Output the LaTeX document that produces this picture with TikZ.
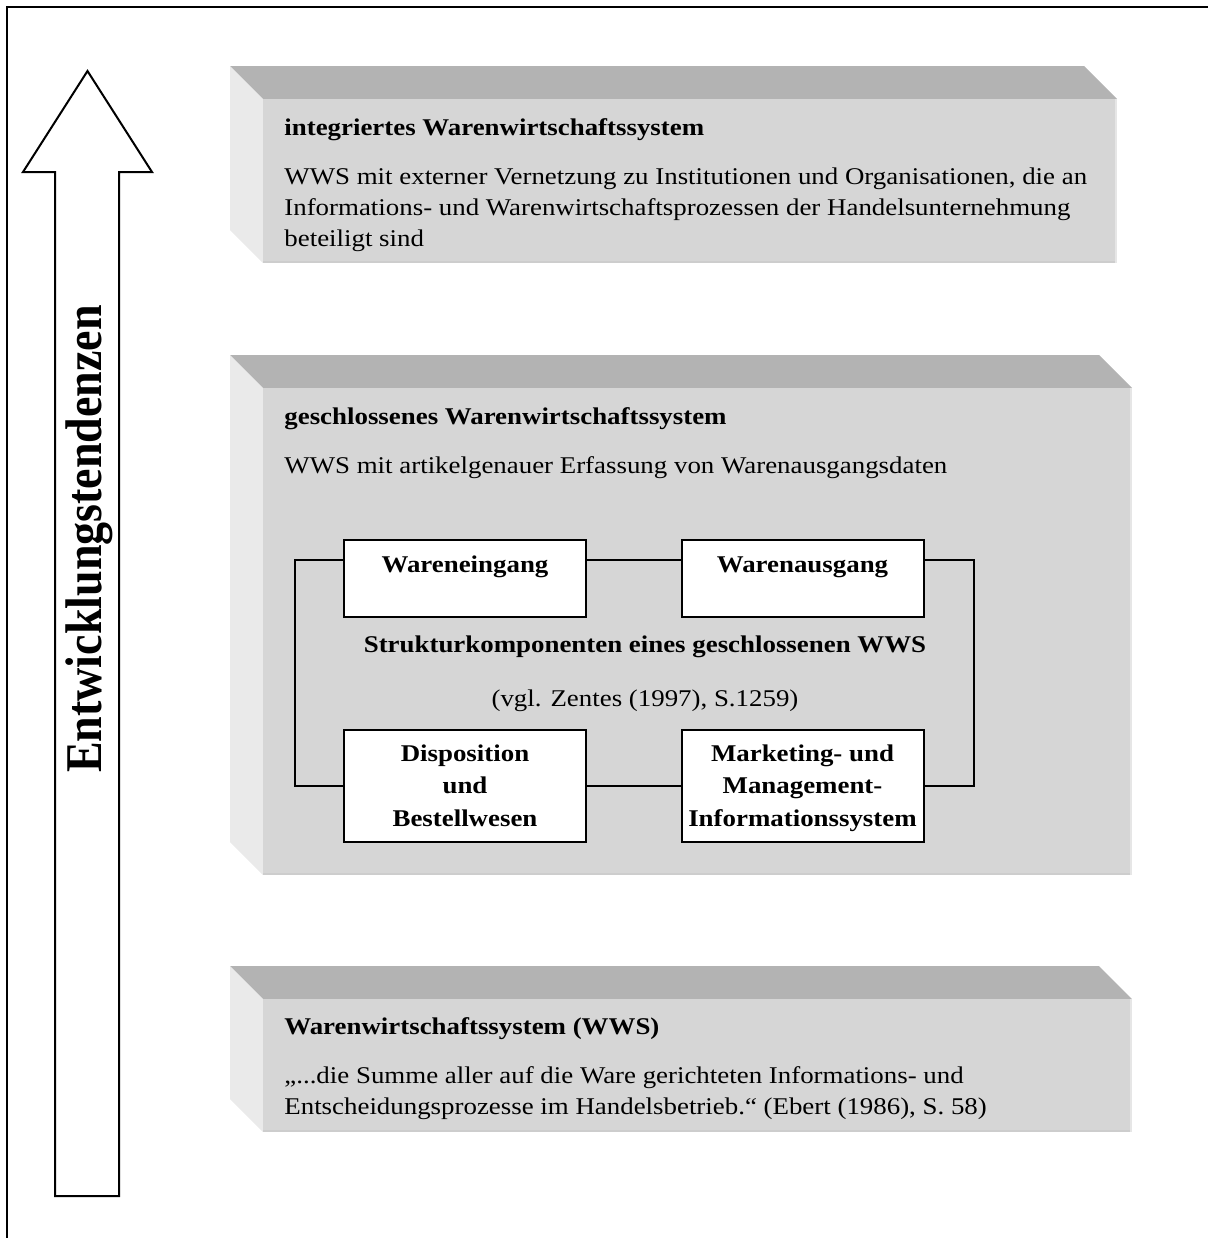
\documentclass[tikz,border=0pt]{standalone}
\usepackage{fontspec}
\setmainfont{Liberation Serif}[FakeStretch=1.12]
\newfontfamily\uprightserif{Liberation Serif}
\usetikzlibrary{calc}

\definecolor{slabtop}{HTML}{B3B3B3}
\definecolor{slabfront}{HTML}{D6D6D6}
\definecolor{slabside}{HTML}{EAEAEA}
\definecolor{slabfoot}{HTML}{CDCDCD}
\definecolor{slabrim}{HTML}{E6E6E6}

\tikzset{
  body/.style={font=\fontsize{12}{15.65}\selectfont, inner sep=0pt, anchor=base west, align=left},
  head/.style={body, font=\bfseries\fontsize{12}{15.65}\selectfont},
  compbox/.style={draw, fill=white, line width=1pt, minimum width=121pt, inner sep=0pt},
  comptext/.style={font=\bfseries\fontsize{12}{16.25}\selectfont, align=center, inner sep=0pt, anchor=base},
  note/.style={font=\fontsize{12}{15.65}\selectfont, inner sep=0pt, anchor=base},
  link/.style={line width=1pt},
  frameline/.style={line width=1pt},
}

% bevelled slab: back-left x, front-right x, back-top y, bottom y (bevel depth 33)
\newcommand\drawslab[4]{%
  \fill[slabtop] (#1,#3) -- ({#2-33},#3) -- (#2,{#3+33}) -- ({#1+33},{#3+33}) -- cycle;
  \fill[slabside] (#1,#3) -- ({#1+33},{#3+33}) -- ({#1+33},#4) -- (#1,{#4-33}) -- cycle;
  \fill[slabfront] ({#1+33},{#3+33}) rectangle (#2,#4);
  \fill[slabfoot] ({#1+33},{#4-2}) rectangle (#2,#4);
  \fill[slabrim] ({#2-2},{#3+33}) rectangle (#2,#4);
}

\begin{document}
\begin{tikzpicture}[x={(0.5pt,0)}, y={(0,-0.5pt)}]
\useasboundingbox (0,0) rectangle (1207,1238);

% outer frame
\draw[frameline] (7,1250) -- (7,7) -- (1220,7);

% development arrow
\draw[frameline, fill=white] (55,1196) -- (55,172) -- (23,172) -- (87.5,71)
  -- (152,172) -- (119,172) -- (119,1196) -- cycle;
\node[rotate=90, yscale=1.12, inner sep=0pt, font=\uprightserif\bfseries\fontsize{23}{28}\selectfont] (trend) at (89,539) {Entwicklungstendenzen};

% slabs
\drawslab{230}{1117}{66}{263}
\drawslab{230}{1132}{355}{875}
\drawslab{230}{1132}{966}{1132}

% integrated system
\node[head] (t1) at (284,135) {integriertes Warenwirtschaftssystem};
\node[body] (d1) at (284,246.6) {WWS mit externer Vernetzung zu Institutionen und Organisationen, die an\\
Informations- und Warenwirtschaftsprozessen der Handelsunternehmung\\
beteiligt sind};

% closed system
\node[head] (t2) at (284,424) {geschlossenes Warenwirtschaftssystem};
\node[body] (d2) at (284,473) {WWS mit artikelgenauer Erfassung von Warenausgangsdaten};

\node[compbox, minimum height=38.5pt] (we) at (465,578.5) {};
\node[compbox, minimum height=38.5pt] (wa) at (802.5,578.5) {};
\node[compbox, minimum height=56pt] (dis) at (465,786) {};
\node[compbox, minimum height=56pt] (mk) at (802.5,786) {};

\node[comptext] (we-t) at ($(we.north)+(0,33)$) {Wareneingang};
\node[comptext] (wa-t) at ($(wa.north)+(0,33)$) {Warenausgang};
\node[comptext] (dis-t) at ($(dis.north)+(0,97)$) {Disposition\\und\\Bestellwesen};
\node[comptext] (mk-t) at ($(mk.north)+(0,97)$) {Marketing- und\\Management-\\Informationssystem};

\draw[link] ($(we.north east)+(0,21)$) -- ($(wa.north west)+(0,21)$);
\draw[link] (dis.east) -- (mk.west);
\draw[link] ($(we.north west)+(0,21)$) -- ++(-48,0) |- (dis.west);
\draw[link] ($(wa.north east)+(0,21)$) -- ++(49,0) |- (mk.east);

\node[comptext] (sk) at (645,652) {Strukturkomponenten eines geschlossenen WWS};
\node[note] (src) at (645,706) {(vgl. Zentes (1997), S.1259)};

% basic system
\node[head] (t3) at (284,1034) {Warenwirtschaftssystem (WWS)};
\node[body] (d3) at (284,1114.3) {„...die Summe aller auf die Ware gerichteten Informations- und\\
Entscheidungsprozesse im Handelsbetrieb.“ (Ebert (1986), S. 58)};
\end{tikzpicture}
\end{document}
